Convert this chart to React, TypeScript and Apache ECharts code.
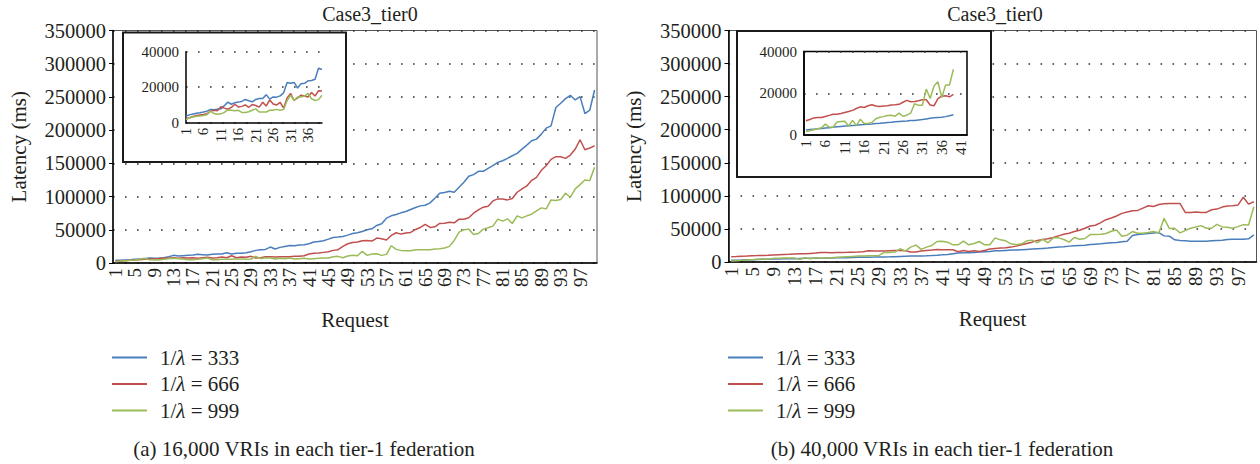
import React, { useEffect, useRef } from "react";
import * as echarts from "echarts";

const FONT = '"Liberation Serif", "DejaVu Serif", serif';
const TXT = "#231f20";
const BLUE = "#4a7ebb";
const RED = "#c0504d";
const GREEN = "#9bbb59";

const seriesNames = ["1/λ = 333", "1/λ = 666", "1/λ = 999"];
const panelTitle = "Case3_tier0";
const captions = ["(a) 16,000 VRIs in each tier-1 federation", "(b) 40,000 VRIs in each tier-1 federation"];
const xTitle = "Request";
const yTitle = "Latency (ms)";

const mainCats = Array.from({ length: 100 }, (_, i) => String(i + 1));
const insetACats = Array.from({ length: 40 }, (_, i) => String(i + 1));
const insetBCats = Array.from({ length: 42 }, (_, i) => String(i + 1));

// Panel (a): 16,000 VRIs
const aBlue = [
  4000, 4300, 4700, 5000, 5500, 6000, 6500, 7500, 7300, 7600,
  8000, 9500, 11500, 10500, 11000, 11500, 12000, 13000, 12500, 12000,
  13000, 13500, 13500, 15500, 13500, 14500, 14500, 15500, 17000, 19000,
  20000, 20500, 24000, 21000, 23500, 25000, 26500, 26000, 27000, 27500,
  29000, 31500, 32500, 33500, 36000, 38500, 39000, 40000, 42000, 44500,
  45500, 47500, 50000, 51500, 56500, 59000, 67500, 71000, 73000, 75500,
  77500, 80500, 83500, 86000, 87000, 90500, 97500, 105000, 106000, 108000,
  106500, 114000, 121500, 130500, 133000, 138000, 138000, 142500, 146500, 151500,
  154000, 157500, 161500, 165000, 171500, 177500, 184000, 186500, 194000, 203000,
  206500, 234000, 240500, 247500, 252500, 245500, 250500, 225000, 230000, 260500,
];
const aRed = [
  2500, 3000, 3500, 4000, 4500, 5000, 5500, 6000, 6500, 6500,
  7500, 7000, 8000, 7000, 8000, 7500, 8000, 7000, 8000, 8500,
  7500, 8000, 9000, 8000, 11000, 8000, 9000, 8500, 10000, 7500,
  8000, 9500, 9500, 9000, 9500, 9500, 9500, 10000, 10000, 11000,
  13500, 14500, 15000, 16000, 17000, 19000, 20000, 25000, 29000, 31000,
  31500, 33500, 34000, 33000, 37500, 36500, 34500, 41500, 45500, 43500,
  45000, 46000, 50500, 53500, 58000, 53500, 54500, 59500, 60000, 61500,
  60500, 66000, 66000, 68000, 75000, 80000, 84000, 85500, 93500, 96500,
  96500, 95000, 97000, 106500, 111500, 116000, 124500, 129000, 139500, 146500,
  156000, 160000, 160000, 157500, 162500, 171500, 185500, 170500, 173000, 176500,
];
const aGreen = [
  2000, 3000, 3500, 4000, 4500, 5500, 7000, 5000, 4500, 4500,
  5500, 6500, 7000, 6500, 6000, 5000, 5000, 5500, 6500, 7500,
  5000, 5000, 5500, 5500, 5500, 6000, 6000, 5500, 6000, 10000,
  6500, 8000, 7500, 6000, 7000, 6500, 7500, 6000, 6500, 7000,
  6000, 6500, 7000, 7500, 7500, 9500, 10000, 8000, 10500, 11500,
  11000, 17500, 11500, 13500, 14000, 11500, 13000, 26000, 20500, 19000,
  18500, 18500, 20000, 20000, 20000, 20000, 21000, 21500, 22500, 25000,
  34000, 46500, 50000, 51000, 43000, 44500, 51000, 53000, 55500, 66000,
  63000, 66500, 59500, 71000, 68000, 71000, 73500, 78500, 83000, 81500,
  95000, 94000, 95500, 105000, 99000, 111500, 118000, 125000, 124000, 144000,
];
const aInsetBlue = [
  3800, 4400, 4900, 5300, 5600, 6000, 6500, 7500, 7300, 7600,
  7800, 9600, 11600, 10400, 11300, 11600, 12000, 13100, 12400, 11800,
  13100, 13600, 13600, 15800, 13300, 14500, 14400, 15100, 16900, 22700,
  22200, 22700, 19500, 22000, 22200, 23600, 23800, 24500, 30700, 30000,
];
const aInsetRed = [
  2200, 2800, 3500, 4000, 4300, 4600, 5000, 6500, 7000, 6800,
  9000, 8200, 7600, 8600, 10400, 8900, 9200, 10000, 8700, 10200,
  9700, 8800, 11500, 9400, 12800, 10500, 10000, 11500, 8200, 14000,
  16500, 12500, 14000, 15500, 15000, 14500, 17000, 15000, 18000, 17800,
];
const aInsetGreen = [
  1800, 2800, 3200, 3600, 3800, 4000, 4500, 6500, 5200, 4800,
  5000, 5800, 7200, 7000, 6800, 7000, 5800, 5700, 6200, 7000,
  7800, 6000, 6000, 6000, 7000, 7000, 7500, 7000, 7500, 12500,
  15500, 12500, 14500, 14500, 15000, 16500, 13500, 12500, 13000, 15500,
];

// Panel (b): 40,000 VRIs
const bBlue = [
  2500, 2800, 3000, 3300, 3500, 3800, 4000, 4200, 4400, 4600,
  4800, 5000, 5100, 5300, 5500, 5600, 5700, 5800, 6000, 6100,
  6300, 6500, 6600, 6800, 7000, 7100, 7300, 7400, 7600, 7700,
  7800, 8000, 8300, 8600, 8900, 9000, 9100, 9300, 9700, 10200,
  10800, 11500, 12500, 13500, 13800, 14000, 14500, 15000, 15500, 16000,
  17000, 17000, 17500, 18000, 18000, 18500, 19000, 19500, 20000, 20500,
  21000, 22000, 22500, 23000, 24000, 24500, 25000, 25500, 26500, 27000,
  27500, 28500, 29000, 29500, 30500, 31500, 40000, 41500, 42500, 43000,
  44000, 44500, 39500, 39000, 33500, 32500, 32000, 31500, 31500, 31500,
  31500, 32000, 32500, 33000, 34000, 34500, 34500, 34500, 35000, 41000,
];
const bRed = [
  8000, 8300, 8700, 9000, 9500, 9700, 10000, 10300, 10700, 11000,
  11300, 11600, 12000, 12300, 12500, 13000, 13500, 14500, 14300, 14000,
  14300, 14500, 14600, 14800, 15000, 15500, 17000, 16500, 16500, 16500,
  17000, 17500, 17500, 17000, 15000, 15000, 16500, 17500, 18000, 19000,
  18500, 18500, 18500, 15500, 17500, 16000, 17000, 16000, 17500, 19500,
  20500, 21000, 21500, 22500, 24000, 26000, 28000, 30000, 32500, 34000,
  35000, 37000, 39500, 42000, 43500, 46000, 48000, 51000, 54500, 55500,
  59500, 64000, 66500, 69500, 73500, 75500, 77500, 78000, 81500, 85000,
  84000, 87000, 88000, 88500, 88500, 88500, 75000, 75000, 75500, 75000,
  75000, 79000, 80000, 83000, 84500, 85000, 86000, 98000, 87500, 91000,
];
const bGreen = [
  1500, 2000, 2500, 3000, 3500, 4000, 4500, 4000, 5500, 5500,
  6000, 6000, 6000, 4000, 6500, 5000, 6500, 5500, 6000, 6500,
  7000, 7500, 8000, 8500, 9000, 9000, 9500, 9500, 10000, 14500,
  14500, 15000, 20000, 16500, 22500, 25500, 19000, 22500, 25000, 31000,
  31500, 30000, 26000, 26000, 31500, 26000, 28000, 31000, 26000, 26000,
  36500, 33500, 32000, 27500, 26000, 27500, 32000, 33000, 29000, 34500,
  29000, 36500, 36500, 34000, 30000, 37000, 34500, 35500, 41500, 41500,
  42000, 43000, 46500, 48500, 39000, 40500, 46000, 43500, 43500, 44500,
  46000, 44000, 66000, 50500, 51000, 44000, 47500, 51000, 53000, 55000,
  51000, 51000, 57000, 53000, 52500, 51000, 53500, 56500, 56000, 83500,
];
const bInsetBlue = [
  2400, 2600, 2800, 3000, 3100, 3300, 3500, 3700, 3900, 4100,
  4300, 4400, 4600, 4700, 4900, 5000, 5200, 5300, 5500, 5600,
  5800, 6000, 6100, 6300, 6500, 6600, 6700, 6900, 7000, 7200,
  7400, 7700, 8000, 8300, 8400, 8500, 8800, 9200, 9700,
];
const bInsetRed = [
  6800, 7400, 8200, 8400, 8400, 8900, 9400, 9900, 9900, 10300,
  10800, 11300, 11800, 12700, 13500, 13200, 14000, 14500, 13900, 13700,
  13900, 14000, 14400, 14500, 14700, 15700, 16600, 15900, 16100, 16400,
  16900, 16900, 14400, 14000, 17400, 18600, 18800, 18300, 19500,
];
const bInsetGreen = [
  1700, 2000, 2500, 3000, 3500, 5200, 3800, 3700, 6200, 6500,
  6600, 4300, 7000, 4600, 7500, 5500, 5500, 6000, 7800, 8500,
  8800, 9300, 9500, 9000, 10500, 9000, 9500, 10500, 15000, 14200,
  14200, 22000, 17500, 23500, 25500, 18000, 24000, 24000, 31500,
];

const dotted = { color: "#333", width: 1.6, type: [1.6, 10.4] as any };
const plain = (v: number) => String(v);

function mainAxes(gridIndex: number) {
  const x = {
    type: "category",
    gridIndex,
    data: mainCats,
    boundaryGap: true,
    axisLine: { lineStyle: { color: "#000", width: 1.5 } },
    axisTick: { show: false },
    axisLabel: { interval: 3, rotate: 90, fontSize: 19, fontFamily: FONT, color: TXT, margin: 5 },
    name: xTitle,
    nameLocation: "middle",
    nameGap: 46,
    nameTextStyle: { fontSize: 21, fontFamily: FONT, color: TXT },
    z: 1,
  };
  const y = {
    type: "value",
    gridIndex,
    min: 0,
    max: 350000,
    interval: 50000,
    axisLine: { show: true, lineStyle: { color: "#000", width: 1.5 } },
    axisTick: { show: true, length: 4, lineStyle: { color: "#000" } },
    axisLabel: { fontSize: 20.5, fontFamily: FONT, color: TXT, margin: 7, formatter: plain },
    splitLine: { show: true, lineStyle: dotted },
    name: yTitle,
    nameLocation: "middle",
    nameRotate: 90,
    nameGap: 84,
    nameTextStyle: { fontSize: 21, fontFamily: FONT, color: TXT },
    z: 1,
  };
  return { x, y };
}

function insetAxes(gridIndex: number, cats: string[], boundaryGap: boolean) {
  const x = {
    type: "category",
    gridIndex,
    data: cats,
    boundaryGap,
    axisLine: { lineStyle: { color: "#000", width: 1.5 } },
    axisTick: { show: false },
    axisLabel: { interval: 4, rotate: 90, fontSize: 15, fontFamily: FONT, color: TXT, margin: 5 },
    z: 5,
  };
  const y = {
    type: "value",
    gridIndex,
    min: 0,
    max: 40000,
    interval: 20000,
    axisLine: { show: true, lineStyle: { color: "#000", width: 1.5 } },
    axisTick: { show: false },
    axisLabel: { fontSize: 15, fontFamily: FONT, color: TXT, margin: 7, formatter: plain },
    splitLine: { show: true, lineStyle: dotted },
    z: 5,
  };
  return { x, y };
}

function line(name: string, data: number[], color: string, idx: number, z: number) {
  return {
    type: "line",
    name,
    data,
    xAxisIndex: idx,
    yAxisIndex: idx,
    symbol: "none",
    showSymbol: false,
    color,
    lineStyle: { color, width: 1.5 },
    z,
  };
}

function legendFor(left: number) {
  return {
    left,
    top: 347,
    padding: 0,
    orient: "vertical",
    icon: "rect",
    itemWidth: 35,
    itemHeight: 2,
    itemGap: 5.5,
    selectedMode: false,
    data: seriesNames,
    formatter: (n: string) => n.replace("λ", "{i|λ}"),
    textStyle: {
      fontSize: 21,
      fontFamily: FONT,
      color: TXT,
      lineHeight: 21,
      padding: [0, 0, 0, 8],
      rich: { i: { fontStyle: "italic", fontSize: 21, fontFamily: FONT, color: TXT } },
    },
  };
}

function txt(text: string, x: number, y: number, size: number) {
  return {
    type: "text",
    x,
    y,
    z: 10,
    style: { text, fontSize: size, fontFamily: FONT, fill: TXT, align: "center", verticalAlign: "middle" },
  };
}

export default function App() {
  const ref = useRef<HTMLDivElement>(null);
  useEffect(() => {
    if (!ref.current) return;
    const chart = echarts.init(ref.current, undefined, { renderer: "svg" });
    const mA = mainAxes(0);
    const iA = insetAxes(1, insetACats, false);
    const mB = mainAxes(2);
    const iB = insetAxes(3, insetBCats, true);
    const option: any = {
      animation: false,
      backgroundColor: "#fff",
      grid: [
        { left: 113, top: 30.5, width: 484, height: 232.5, show: true, borderColor: "#555", borderWidth: 1, backgroundColor: "transparent", z: 0 },
        { left: 186, top: 51.7, width: 136, height: 71, show: false, z: 5 },
        { left: 728.5, top: 30.5, width: 528, height: 231.5, show: true, borderColor: "#555", borderWidth: 1, backgroundColor: "transparent", z: 0 },
        { left: 804, top: 51.5, width: 163, height: 83.5, show: true, borderColor: "#000", borderWidth: 1.5, backgroundColor: "transparent", z: 5 },
      ],
      xAxis: [mA.x, iA.x, mB.x, iB.x],
      yAxis: [mA.y, iA.y, mB.y, iB.y],
      legend: [legendFor(112), legendFor(728)],
      series: [
        line(seriesNames[0], aBlue, BLUE, 0, 2),
        line(seriesNames[1], aRed, RED, 0, 2),
        line(seriesNames[2], aGreen, GREEN, 0, 2),
        line(seriesNames[0], aInsetBlue, BLUE, 1, 6),
        line(seriesNames[1], aInsetRed, RED, 1, 6),
        line(seriesNames[2], aInsetGreen, GREEN, 1, 6),
        line(seriesNames[0], bBlue, BLUE, 2, 2),
        line(seriesNames[1], bRed, RED, 2, 2),
        line(seriesNames[2], bGreen, GREEN, 2, 2),
        line(seriesNames[0], bInsetBlue, BLUE, 3, 6),
        line(seriesNames[1], bInsetRed, RED, 3, 6),
        line(seriesNames[2], bInsetGreen, GREEN, 3, 6),
      ],
      graphic: [
        { type: "rect", z: 3, shape: { x: 123, y: 32.5, width: 223, height: 129.5 }, style: { fill: "#fff", stroke: "#1a1a1a", lineWidth: 2 } },
        { type: "rect", z: 3, shape: { x: 737, y: 31, width: 254, height: 146 }, style: { fill: "#fff", stroke: "#1a1a1a", lineWidth: 2 } },
        txt(panelTitle, 370, 14, 20),
        txt(panelTitle, 995, 14, 20),
        txt(captions[0], 304, 449, 21),
        txt(captions[1], 942, 449, 21),
      ],
    };
    chart.setOption(option);
    return () => chart.dispose();
  }, []);
  return (
    <div
      ref={ref}
      style={{ position: "fixed", left: 0, top: 0, width: 1260, height: 464, background: "#fff" }}
    />
  );
}
